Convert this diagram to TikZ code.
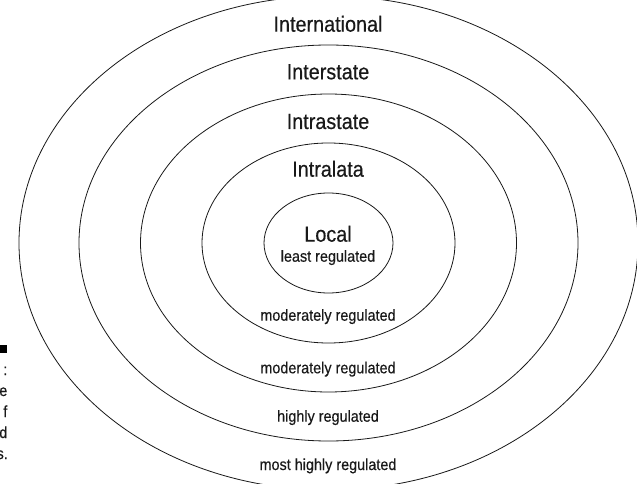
\documentclass[tikz,border=0pt]{standalone}
\usepackage{fontspec}
\setmainfont{Liberation Sans}[FakeStretch=0.9,FakeBold=0.35]
\begin{document}
\begin{tikzpicture}[x=1pt,y=-1pt,
  ring/.style={draw=black!90,line width=0.8pt},
  big/.style={font=\fontsize{22}{24}\selectfont,anchor=base,inner sep=0pt,text=black!90},
  small/.style={font=\fontsize{16}{18}\selectfont,anchor=base,inner sep=0pt,text=black!90},
  captext/.style={font=\fontsize{16}{18}\selectfont,anchor=base east,inner sep=0pt,text=black!90}]
\useasboundingbox (0,0) rectangle (637,484);
\clip (0,0) rectangle (637,484);
\fill[white] (0,0) rectangle (637,484);
\coordinate (c) at (328.5,243);
\draw[ring] (c) ellipse [x radius=309.5, y radius=247];
\draw[ring] (c) ellipse [x radius=249.5, y radius=198];
\draw[ring] (c) ellipse [x radius=188, y radius=149];
\draw[ring] (c) ellipse [x radius=126.5, y radius=100];
\draw[ring] (c) ellipse [x radius=64.5, y radius=50];
\node[big] (intl) at (328,31.7) {International};
\node[big] (inter) at (328,79.3) {Interstate};
\node[big] (intra) at (328,129) {Intrastate};
\node[big] (lata) at (328,176.7) {Intralata};
\node[big] (local) at (328,241.7) {Local};
\node[small] (least) at (328,261.7) {least regulated};
\node[small] (mod1) at (328,320.7) {moderately regulated};
\node[small] (mod2) at (328,373.3) {moderately regulated};
\node[small] (high) at (328,421.7) {highly regulated};
\node[small] (most) at (328,470) {most highly regulated};
\fill[black] (0,345) rectangle (6.5,353);
\node[captext] (c1) at (7.5,375) {:};
\node[captext] (c2) at (7.5,396) {e};
\node[captext] (c3) at (7.5,417) {f};
\node[captext] (c4) at (7.5,438) {d};
\node[captext] (c5) at (8,459) {s.};
\end{tikzpicture}
\end{document}
